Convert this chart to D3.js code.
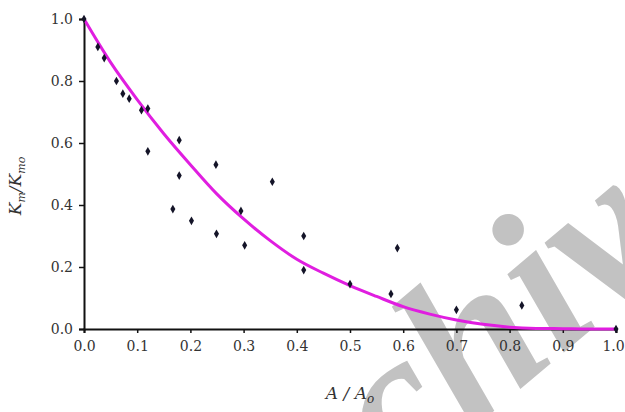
<!DOCTYPE html>
<html>
<head>
<meta charset="utf-8">
<script src="https://cdn.jsdelivr.net/npm/d3@7"></script>
<style>
  body { margin: 0; background: #fff; }
  svg { display: block; }
</style>
</head>
<body>
<div id="chart"></div>
<script>
// measured points, A/Ao vs Km/Kmo
const pointX = [0.0, 0.026, 0.038, 0.061, 0.073, 0.085, 0.108, 0.12, 0.12, 0.167, 0.179, 0.179, 0.202,
  0.248, 0.249, 0.295, 0.302, 0.354, 0.413, 0.413, 0.50, 0.577, 0.589, 0.70, 0.823, 1.0];
const pointY = [1.0, 0.91, 0.874, 0.80, 0.759, 0.743, 0.706, 0.711, 0.573, 0.387, 0.609, 0.495, 0.349,
  0.53, 0.307, 0.381, 0.27, 0.475, 0.30, 0.19, 0.145, 0.113, 0.261, 0.062, 0.076, 0.0];

// fitted curve
const curveX = [0, 0.05, 0.1, 0.15, 0.2, 0.25, 0.3, 0.35, 0.4, 0.45, 0.5, 0.55, 0.6, 0.65, 0.7, 0.75, 0.8, 0.85, 0.9, 0.95, 1.0];
const curveY = [1.0, 0.86, 0.74, 0.63, 0.53, 0.435, 0.355, 0.285, 0.225, 0.18, 0.14, 0.105, 0.072, 0.048, 0.029, 0.015, 0.006, 0.002, 0.001, 0.0, 0.0];

const xTicks = [0, 0.1, 0.2, 0.3, 0.4, 0.5, 0.6, 0.7, 0.8, 0.9, 1.0];
const yTicks = [0, 0.2, 0.4, 0.6, 0.8, 1.0];

const width = 625, height = 412;
const margin = {top: 19, right: 9, bottom: 83, left: 84};

const svg = d3.select("#chart").append("svg")
  .attr("width", width)
  .attr("height", height);

// watermark sits under the plot
svg.append("text")
  .attr("transform", "translate(488,416) rotate(-40)")
  .attr("text-anchor", "middle")
  .style("font-family", "'Liberation Serif', serif")
  .style("font-style", "italic")
  .style("font-weight", "bold")
  .style("font-size", "210px")
  .attr("fill", "#c2c2c2")
  .text("Archive");

const x = d3.scaleLinear().domain([0, 1]).range([margin.left, width - margin.right]);
const y = d3.scaleLinear().domain([0, 1]).range([height - margin.bottom, margin.top]);

const font = "'DejaVu Serif', serif";

// x axis
const xAxis = svg.append("g")
  .attr("transform", `translate(0,${y(0)})`)
  .call(d3.axisBottom(x).tickValues(xTicks).tickFormat(d3.format(".1f")).tickSize(4).tickPadding(8));
// y axis
const yAxis = svg.append("g")
  .attr("transform", `translate(${x(0)},0)`)
  .call(d3.axisLeft(y).tickValues(yTicks).tickFormat(d3.format(".1f")).tickSize(5).tickPadding(6));

[xAxis, yAxis].forEach(g => {
  g.select(".domain").attr("stroke", "#111").attr("stroke-width", 2);
  g.selectAll(".tick line").attr("stroke", "#111").attr("stroke-width", 1.5);
  g.selectAll(".tick text")
    .attr("fill", "#333")
    .style("font-family", font)
    .style("font-size", "14px");
});
// keep the last label inside the frame
xAxis.selectAll(".tick text").filter(d => d === 1).attr("dx", -3);

// curve
const line = d3.line()
  .x((d, i) => x(curveX[i]))
  .y(d => y(d))
  .curve(d3.curveMonotoneX);

svg.append("path")
  .datum(curveY)
  .attr("d", line)
  .attr("fill", "none")
  .attr("stroke", "#e01ee0")
  .attr("stroke-width", 3);

// points
svg.append("g").selectAll("path")
  .data(pointY)
  .enter().append("path")
  .attr("transform", (d, i) => `translate(${x(pointX[i])},${y(d)})`)
  .attr("d", d3.symbol().type(d3.symbolDiamond).size(22))
  .attr("fill", "#141428");

// axis titles
const yl = svg.append("text")
  .attr("transform", "translate(21,186) rotate(-90)")
  .attr("text-anchor", "middle")
  .style("font-family", font)
  .style("font-style", "italic")
  .style("font-size", "17px")
  .attr("fill", "#333");
yl.append("tspan").text("K");
yl.append("tspan").attr("dy", 4).style("font-size", "11px").text("m");
yl.append("tspan").attr("dy", -4).text("/K");
yl.append("tspan").attr("dy", 4).style("font-size", "11px").text("mo");

const xl = svg.append("text")
  .attr("x", 350)
  .attr("y", 399)
  .attr("text-anchor", "middle")
  .style("font-family", font)
  .style("font-style", "italic")
  .style("font-size", "17px")
  .attr("fill", "#333");
xl.append("tspan").text("A / A");
xl.append("tspan").attr("dy", 4).style("font-size", "12px").text("o");
</script>
</body>
</html>
